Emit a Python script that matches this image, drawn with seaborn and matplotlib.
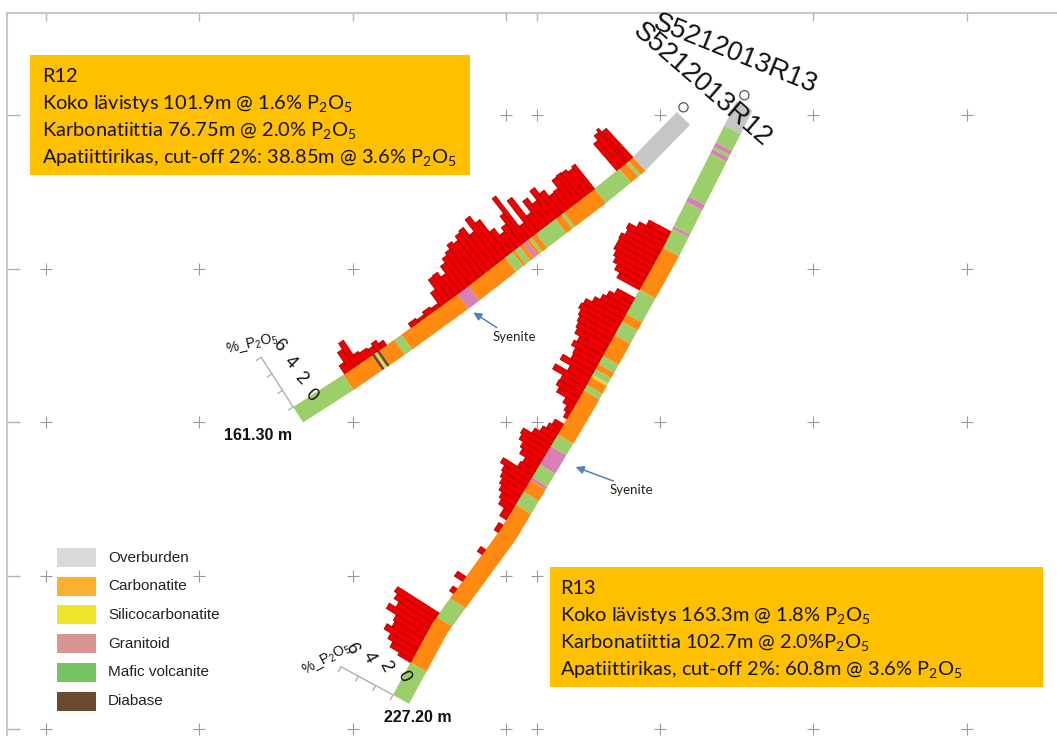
import numpy as np
import matplotlib.pyplot as plt
import seaborn as sns
from matplotlib.patches import Polygon, Rectangle, Circle

#################################################################
# Data
#################################################################
# section grid (m)
grid_x = [0, 50, 100, 150, 160, 200, 250, 300]
grid_z = [0, -50, -100, -150, -200]

# hole traces in section coordinates (m), collar -> end of hole
r12_trace_x = [205.5, 190.9, 178.2, 155.4, 135.8, 114.3, 96.7, 80.5]
r12_trace_z = [1.0, -14.0, -24.4, -41.7, -57.0, -72.6, -84.7, -95.1]
r12_total = 161.30

r13_trace_x = [224.8, 201.0, 173.3, 147.9, 125.7, 113.0]
r13_trace_z = [4.2, -43.0, -92.8, -135.2, -165.5, -188.9]
r13_total = 227.20

# lithology logs (from, to, code)
r12_lith_from = [0, 21, 23, 24, 27, 37.5, 50.5, 51.5, 54, 62, 64, 65, 66, 67.5, 69, 71, 72,
                 75, 90.5, 95, 118, 121, 127, 128, 129, 130, 141.5]
r12_lith_to = [21, 23, 24, 27, 37.5, 50.5, 51.5, 54, 62, 64, 65, 66, 67.5, 69, 71, 72, 75,
               90.5, 95, 118, 121, 127, 128, 129, 130, 141.5, 161.3]
r12_lith = ["OB", "CARB", "MAF", "CARB", "MAF", "CARB", "MAF", "CARB", "MAF", "CARB", "MAF",
            "CARB", "GRAN", "CARB", "MAF", "CARB", "MAF", "CARB", "GRAN", "CARB", "MAF",
            "CARB", "DIAB", "SIL", "DIAB", "CARB", "MAF"]

r13_lith_from = [0, 8.8, 15, 16.5, 17.5, 19, 35, 37, 46, 47, 54, 70, 79, 82, 87, 95, 98, 100,
                 102, 103, 106, 108, 125, 129.5, 136.5, 141.5, 142.5, 147, 152, 190, 197.5, 215]
r13_lith_to = [8.8, 15, 16.5, 17.5, 19, 35, 37, 46, 47, 54, 70, 79, 82, 87, 95, 98, 100, 102,
               103, 106, 108, 125, 129.5, 136.5, 141.5, 142.5, 147, 152, 190, 197.5, 215, 227.2]
r13_lith = ["OB", "MAF", "GRAN", "MAF", "GRAN", "MAF", "GRAN", "MAF", "GRAN", "MAF", "CARB",
            "MAF", "CARB", "MAF", "CARB", "MAF", "CARB", "MAF", "SIL", "CARB", "MAF", "CARB",
            "MAF", "GRAN", "MAF", "GRAN", "CARB", "MAF", "CARB", "MAF", "CARB", "MAF"]

# P2O5 assays (%)
r12_p_from = [21, 23, 24, 26, 37.5, 39, 41, 43, 45, 47, 49, 51, 53, 55, 57, 59, 61, 63, 65,
              66.5, 68, 70, 72, 74, 76, 78, 80, 82, 84, 86, 88, 90, 92, 94, 96, 98, 100, 102,
              105, 108, 111, 124, 126, 128, 130, 133, 135, 137, 139]
r12_p_to = [23, 24, 26, 28, 39, 41, 43, 45, 47, 49, 51, 53, 55, 57, 59, 61, 63, 65, 66.5, 68,
            70, 72, 74, 76, 78, 80, 82, 84, 86, 88, 90, 92, 94, 96, 98, 100, 102, 105, 108,
            111, 114, 126, 128, 130, 133, 135, 137, 139, 141]
r12_p2o5 = [4.0, 4.5, 4.2, 3.6, 3.2, 3.0, 3.3, 3.4, 3.3, 2.3, 2.2, 3.0, 3.8, 2.6, 3.4, 2.0,
            4.4, 1.6, 5.5, 3.6, 2.6, 2.1, 3.0, 4.6, 5.5, 4.0, 5.0, 4.8, 4.3, 4.6, 4.1, 3.8,
            3.3, 2.4, 3.0, 2.9, 1.7, 0.4, 0.6, 0.3, 0.5, 0.6, 1.0, 0.7, 0.9, 1.1, 2.9, 2.2, 1.0]

r13_p_from = [48, 50, 52, 54, 56, 58, 60, 62, 64, 66, 68, 73, 75, 77, 79, 81, 83, 85, 87, 89,
              91, 93, 95, 97, 99, 101, 103, 105, 107, 109, 111, 113, 115, 117, 121, 123, 125,
              127, 129, 131, 133, 135, 137, 139, 141, 143, 145, 147, 149, 151, 153, 155, 160,
              170, 181, 186, 196, 198, 200, 202, 204, 206, 208, 210, 212, 214]
r13_p_to = [50, 52, 54, 56, 58, 60, 62, 64, 66, 68, 70, 75, 77, 79, 81, 83, 85, 87, 89, 91,
            93, 95, 97, 99, 101, 103, 105, 107, 109, 111, 113, 115, 117, 119, 123, 125, 127,
            129, 131, 133, 135, 137, 139, 141, 143, 145, 147, 149, 151, 153, 155, 158, 163,
            172, 183, 188, 198, 200, 202, 204, 206, 208, 210, 212, 214, 215]
r13_p2o5 = [2.5, 3.3, 4.2, 4.0, 4.4, 4.3, 4.3, 4.0, 3.7, 3.2, 2.6, 2.0, 2.6, 3.0, 3.6, 4.3,
            4.5, 4.2, 4.0, 3.8, 3.6, 3.0, 3.3, 2.8, 2.7, 3.6, 2.4, 3.8, 2.6, 2.7, 2.3, 1.2,
            0.7, 0.4, 1.0, 1.3, 1.7, 2.3, 3.3, 3.1, 2.6, 2.3, 1.6, 1.8, 3.5, 3.0, 2.8, 2.5,
            2.2, 1.8, 1.5, 0.8, 0.5, 0.6, 1.0, 0.5, 5.0, 4.6, 4.0, 4.8, 3.6, 3.4, 4.0, 3.2,
            2.6, 1.5]

scale_ticks = [0, 2, 4, 6]

# legend
legend_names = ["Overburden", "Carbonatite", "Silicocarbonatite", "Granitoid",
                "Mafic volcanite", "Diabase"]
legend_colors = ["#d9d9d9", "#fbb12f", "#ede62a", "#d99594", "#77c35f", "#6b4a30"]

band_colors = {"OB": "#c6c6c6", "CARB": "#ff8a12", "SIL": "#e3d44a", "GRAN": "#d780b6",
               "MAF": "#9ccf6a", "DIAB": "#6b4a30"}

#################################################################
# Figure setup
#################################################################
sns.set_theme(style="white")
plt.rcParams['font.family'] = ['Liberation Sans', 'DejaVu Sans']
plt.rcParams['mathtext.fontset'] = 'custom'
plt.rcParams['mathtext.rm'] = 'Lato'

W, H = 1057, 736
PX = 3.07          # pixels per metre in the section
X0, Z0 = 46, 115   # pixel of section origin

fig = plt.figure(figsize=(W / 100, H / 100), dpi=100)
ax = fig.add_axes([7 / W, 0, 1 - 7 / W, 1 - 13 / H])
ax.set_xlim((7 - X0) / PX, (W - X0) / PX)
ax.set_ylim((Z0 - H) / PX, (Z0 - 13) / PX)
ax.set_facecolor("white")
for s in ["right", "bottom"]:
    ax.spines[s].set_visible(False)
for s in ["top", "left"]:
    ax.spines[s].set_color("#c8c8c8")
    ax.spines[s].set_linewidth(1.5)
ax.set_xticks(grid_x)
ax.set_yticks(grid_z)
ax.tick_params(axis="x", top=True, bottom=False, direction="in", length=6, color="#b4b4b4",
               labeltop=False, labelbottom=False, width=1)
ax.tick_params(axis="y", left=True, direction="in", length=9, color="#b4b4b4",
               labelleft=False, width=1)
ax.grid(False)

gx, gz = np.meshgrid(grid_x, grid_z)
sns.scatterplot(x=gx.ravel(), y=gz.ravel(), marker="+", s=70, color="#9a9a9a",
                linewidth=0.8, ax=ax, zorder=1, legend=False)


def fp(px, py):
    return px / W, 1 - py / H


#################################################################
# Drill holes
#################################################################
BAND = 6.0     # band width (m)
SCALE = 3.2    # m per % P2O5


def make_hole(tx, tz, total):
    tx = np.asarray(tx, float)
    tz = np.asarray(tz, float)
    seg = np.hypot(np.diff(tx), np.diff(tz))
    cum = np.concatenate([[0], np.cumsum(seg)])
    ux = np.diff(tx) / seg
    uz = np.diff(tz) / seg
    vx = np.concatenate([[ux[0]], (ux[:-1] + ux[1:]) / 2, [ux[-1]]])
    vz = np.concatenate([[uz[0]], (uz[:-1] + uz[1:]) / 2, [uz[-1]]])
    return {"d": cum / cum[-1] * total, "x": tx, "z": tz, "ux": vx, "uz": vz}


def at(h, d):
    d = np.atleast_1d(np.asarray(d, float))
    x = np.interp(d, h["d"], h["x"])
    z = np.interp(d, h["d"], h["z"])
    ux = np.interp(d, h["d"], h["ux"])
    uz = np.interp(d, h["d"], h["uz"])
    ln = np.hypot(ux, uz)
    ux, uz = ux / ln, uz / ln
    return x, z, ux, uz, uz, -ux   # position, tangent, normal (bar side)


def draw_hole(h, total, lf, lt, lc, pf, pt, pv, digit_rot, label_rot):
    # lithology band
    for a, b, c in zip(lf, lt, lc):
        ds = np.unique(np.concatenate([[a, b], h["d"][(h["d"] > a) & (h["d"] < b)]]))
        x, z, ux, uz, nx, nz = at(h, ds)
        xs = np.concatenate([x, (x - BAND * nx)[::-1]])
        zs = np.concatenate([z, (z - BAND * nz)[::-1]])
        ax.add_patch(Polygon(np.c_[xs, zs], closed=True, fc=band_colors[c], ec="none",
                             zorder=3))
    # P2O5 bars
    for a, b, v in zip(pf, pt, pv):
        x, z, ux, uz, nx, nz = at(h, [a, b])
        L = v * SCALE
        pts = [(x[0], z[0]), (x[1], z[1]), (x[1] + L * nx[1], z[1] + L * nz[1]),
               (x[0] + L * nx[0], z[0] + L * nz[0])]
        ax.add_patch(Polygon(pts, closed=True, fc="#f00000", ec="#a30000", lw=0.5,
                             zorder=4))
    # collar marker, straight above the top of the band
    x, z, ux, uz, nx, nz = at(h, 0)
    ax.add_patch(Circle((x[0] - BAND / 2 * nx[0], z[0] - BAND / 2 * nz[0] + 3.6), 1.5,
                        fc="white", ec="#555555", lw=0.9, zorder=5))
    # P2O5 scale at end of hole
    x, z, ux, uz, nx, nz = at(h, total)
    x, z, ux, uz, nx, nz = x[0], z[0], ux[0], uz[0], nx[0], nz[0]
    ax.plot([x, x + 6 * SCALE * nx], [z, z + 6 * SCALE * nz], color="#b0b0b0", lw=1,
            zorder=5)
    for k in scale_ticks:
        bx, bz = x + k * SCALE * nx, z + k * SCALE * nz
        ax.plot([bx, bx + 1.8 * ux], [bz, bz + 1.8 * uz], color="#b0b0b0", lw=1, zorder=5)
        ax.text(bx - 7.0 * ux, bz - 7.0 * uz, str(k), fontsize=13, color="#111111",
                rotation=digit_rot, ha="center", va="center", rotation_mode="anchor",
                zorder=6)
    tx, tz = x + 7.7 * SCALE * nx, z + 7.7 * SCALE * nz
    ax.text(tx, tz, "%_P$\\mathregular{_2}$O$\\mathregular{_5}$", fontsize=10,
            color="#111111", rotation=label_rot, ha="center", va="center",
            rotation_mode="anchor", zorder=6)


r12 = make_hole(r12_trace_x, r12_trace_z, r12_total)
r13 = make_hole(r13_trace_x, r13_trace_z, r13_total)
draw_hole(r12, r12_total, r12_lith_from, r12_lith_to, r12_lith, r12_p_from, r12_p_to,
          r12_p2o5, digit_rot=-45, label_rot=13)
draw_hole(r13, r13_total, r13_lith_from, r13_lith_to, r13_lith, r13_p_from, r13_p_to,
          r13_p2o5, digit_rot=-62, label_rot=28)

#################################################################
# Annotations
#################################################################
fig.text(*fp(258, 436), "161.30 m", fontsize=11.5, fontweight="bold", ha="center",
         va="center", color="#111111")
fig.text(*fp(418, 717), "227.20 m", fontsize=11.5, fontweight="bold", ha="center",
         va="center", color="#111111")

fig.text(*fp(652, 28), "S5212013R13", fontsize=19.5, rotation=-22, rotation_mode="anchor",
         ha="left", va="baseline", color="#111111")
fig.text(*fp(632, 33), "S5212013R12", fontsize=19.5, rotation=-41, rotation_mode="anchor",
         ha="left", va="baseline", color="#111111")

for (tx, ty), (hx, hy) in [((514, 337), (471, 311)), ((631, 490), (573, 466))]:
    ax.annotate("", xy=(hx, H - hy), xycoords="figure pixels", xytext=(tx - 15, H - ty + 8),
                textcoords="figure pixels",
                arrowprops=dict(arrowstyle="-|>", color="#4f81bd", lw=1.1,
                                mutation_scale=12))
    fig.text(*fp(tx, ty), "Syenite", fontsize=9.5, ha="center", va="center",
             family=["Lato", "DejaVu Sans"], color="#222222")

# info boxes
P2O5 = "P$\\mathregular{_2}$O$\\mathregular{_5}$"
boxes = [
    ((30, 55, 440, 120), 42, ["R12",
                              "Koko lävistys 101.9m @ 1.6% " + P2O5,
                              "Karbonatiittia 76.75m @ 2.0% " + P2O5,
                              "Apatiittirikas, cut-off 2%: 38.85m @ 3.6% " + P2O5]),
    ((550, 567, 493, 120), 560, ["R13",
                                 "Koko lävistys 163.3m @ 1.8% " + P2O5,
                                 "Karbonatiittia 102.7m @ 2.0%" + P2O5,
                                 "Apatiittirikas, cut-off 2%: 60.8m @ 3.6% " + P2O5]),
]
for (bx, by, bw, bh), tx, lines in boxes:
    fig.patches.append(Rectangle((bx / W, 1 - (by + bh) / H), bw / W, bh / H,
                                 transform=fig.transFigure, fc="#ffc000", ec="none",
                                 zorder=2))
    for i, line in enumerate(lines):
        fig.text(*fp(tx, by + 27 + 27 * i), line, fontsize=14.4,
                 family=["Lato", "DejaVu Sans"], ha="left", va="baseline",
                 color="#111111", zorder=3)

# legend
for i, (name, col) in enumerate(zip(legend_names, legend_colors)):
    cy = 557.5 + 28.7 * i
    fig.patches.append(Rectangle((57 / W, 1 - (cy + 9.5) / H), 39 / W, 19 / H,
                                 transform=fig.transFigure, fc=col, ec="none", zorder=2))
    fig.text(*fp(108, cy), name, fontsize=11, ha="left", va="center", color="#222222")

fig.savefig("out.png", dpi=100)
